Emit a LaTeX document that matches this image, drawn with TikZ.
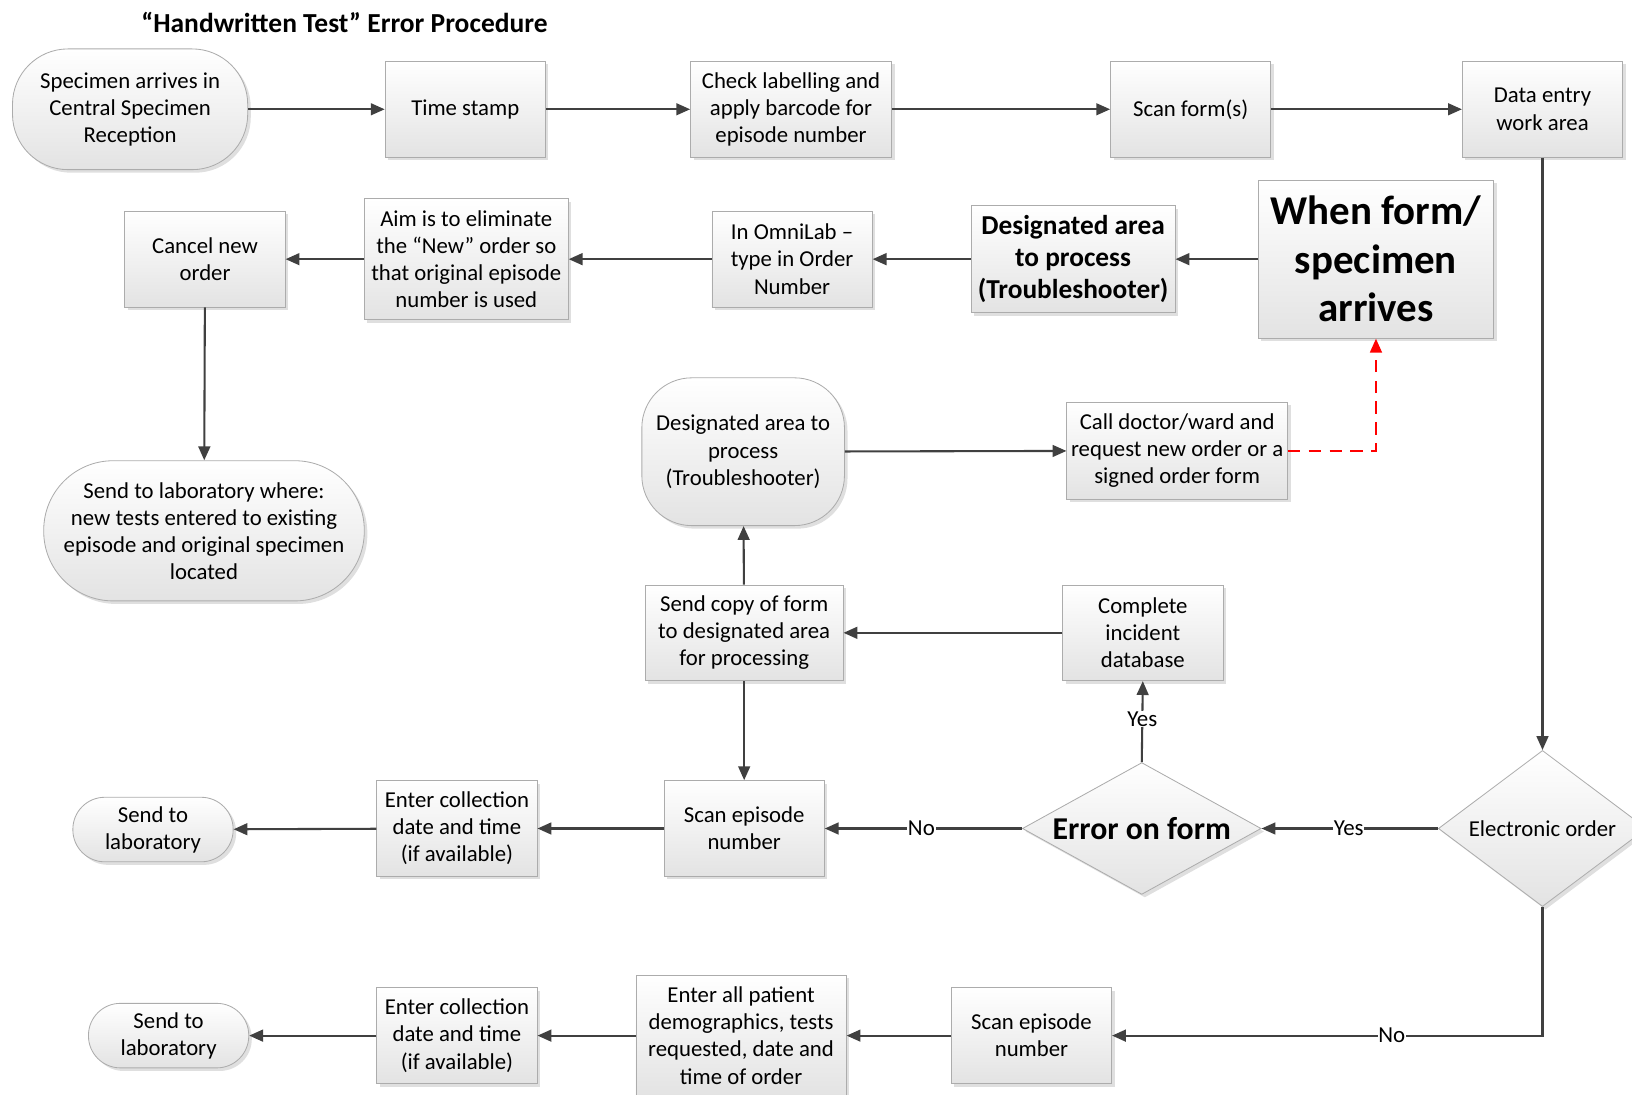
\documentclass[tikz,border=0pt]{standalone}
\usepackage{fontspec}
\setmainfont{Carlito}
\usetikzlibrary{arrows.meta,shapes.geometric,shadows}
\begin{document}
\begin{tikzpicture}[x=0.75pt,y=-0.75pt,
 base/.style={draw=gray!65, line width=0.6pt, top color=white, bottom color=gray!22,
   drop shadow={shadow xshift=2.2pt, shadow yshift=-2.2pt, fill=gray!55, opacity=0.45},
   align=center, inner sep=2pt, font=\fontsize{16.4}{19.5}\selectfont},
 box/.style={base, rectangle, minimum width=115.5pt, minimum height=69pt},
 stad/.style={base, rectangle, rounded corners=#1},
 dia/.style={base, diamond, inner sep=0pt},
 conn/.style={draw=black!75, line width=1.5pt, -{Triangle[length=10pt,width=8.5pt]}},
 lbl/.style={fill=white, inner sep=0.6pt, font=\fontsize{16.5}{18}\selectfont, text=black}
]
\useasboundingbox (0,0) rectangle (1568,1052);
\clip (0,0) rectangle (1568,1052);

\node[font=\bfseries\fontsize{19.8}{22}\selectfont] (title) at (331,22) {“Handwritten Test” Error Procedure};

% row 1
\node[stad=40pt, minimum width=169.5pt, minimum height=87pt] (start) at (125,105) {Specimen arrives in\\Central Specimen\\Reception};
\node[box] (time) at (447,105) {Time stamp};
\node[box, minimum width=144.75pt] (check) at (760,105) {Check labelling and\\apply barcode for\\episode number};
\node[box] (scanf) at (1144,105) {Scan form(s)};
\node[box] (data) at (1482,105) {Data entry\\work area};

% row 2
\node[box, minimum width=169.5pt, minimum height=114pt, font=\bfseries\fontsize{29.5}{35}\selectfont] (when) at (1322,249) {When form/\\specimen\\arrives};
\node[box, minimum width=147pt, minimum height=77pt, font=\bfseries\fontsize{19.7}{23}\selectfont] (desig) at (1031,249) {Designated area\\to process\\(Troubleshooter)};
\node[box] (omni) at (761,249) {In OmniLab –\\type in Order\\Number};
\node[box, minimum width=147pt, minimum height=87pt] (aim) at (448,249) {Aim is to eliminate\\the “New” order so\\that original episode\\number is used};
\node[box] (cancel) at (197,249) {Cancel new\\order};

\node[stad=50pt, minimum width=231pt, minimum height=101pt] (sendw) at (196,510) {Send to laboratory where:\\new tests entered to existing\\episode and original specimen\\located};

% middle
\node[stad=36pt, minimum width=146pt, minimum height=106.5pt] (desig2) at (714,434) {Designated area to\\process\\(Troubleshooter)};
\node[box, minimum width=159pt, minimum height=70pt] (call) at (1131,433) {Call doctor/ward and\\request new order or a\\signed order form};
\node[box, minimum width=142.5pt] (copy) at (715,608) {Send copy of form\\to designated area\\for processing};
\node[box] (incid) at (1098,608) {Complete\\incident\\database};

% row decision
\node[dia, minimum width=172pt, minimum height=95pt,
  label={[font=\bfseries\fontsize{22.9}{26}\selectfont]center:Error on form}] (err) at (1097,796) {};
\node[dia, minimum width=150pt, minimum height=112.5pt,
  label={[font=\fontsize{16.4}{19.5}\selectfont]center:Electronic order}] (elec) at (1482,796) {};
\node[box] (scan1) at (715,796) {Scan episode\\number};
\node[box] (coll1) at (439,796) {Enter collection\\date and time\\(if available)};
\node[stad=23pt, minimum width=115.5pt, minimum height=46.5pt] (lab1) at (147,797) {Send to\\laboratory};

% bottom row
\node[box] (scan2) at (991,995) {Scan episode\\number};
\node[box, minimum width=151.5pt, minimum height=87pt] (demo) at (712,995) {Enter all patient\\demographics, tests\\requested, date and\\time of order};
\node[box] (coll2) at (439,995) {Enter collection\\date and time\\(if available)};
\node[stad=23pt, minimum width=115.5pt, minimum height=46.5pt] (lab2) at (162,995) {Send to\\laboratory};

% connectors
\draw[conn] (start) -- (time);
\draw[conn] (time) -- (check);
\draw[conn] (check) -- (scanf);
\draw[conn] (scanf) -- (data);
\draw[conn] (data) -- (elec);

\draw[conn] (when) -- (desig);
\draw[conn] (desig) -- (omni);
\draw[conn] (omni) -- (aim);
\draw[conn] (aim) -- (cancel);
\draw[conn] (cancel) -- (sendw);

\draw[conn] (desig2) -- (call);
\draw[red, line width=1.5pt, dash pattern=on 9pt off 6pt, -{Triangle[length=10pt,width=8.5pt]}] (call.east) -| (when.south);

\draw[conn] (copy) -- (desig2);
\draw[conn] (incid) -- (copy);
\draw[conn] (copy) -- (scan1);

\draw[conn] (elec.west) -- node[lbl, pos=0.506] {Yes} (err.east);
\draw[conn] (err.north) -- node[lbl, pos=0.53] {Yes} (incid.south);
\draw[conn] (err.west) -- node[lbl, pos=0.51] {No} (scan1.east);
\draw[conn] (scan1) -- (coll1);
\draw[conn] (coll1) -- (lab1);

\draw[conn] (elec.south) |- node[lbl, pos=0.675] {No} (scan2.east);
\draw[conn] (scan2) -- (demo);
\draw[conn] (demo) -- (coll2);
\draw[conn] (coll2) -- (lab2);
\end{tikzpicture}
\end{document}
